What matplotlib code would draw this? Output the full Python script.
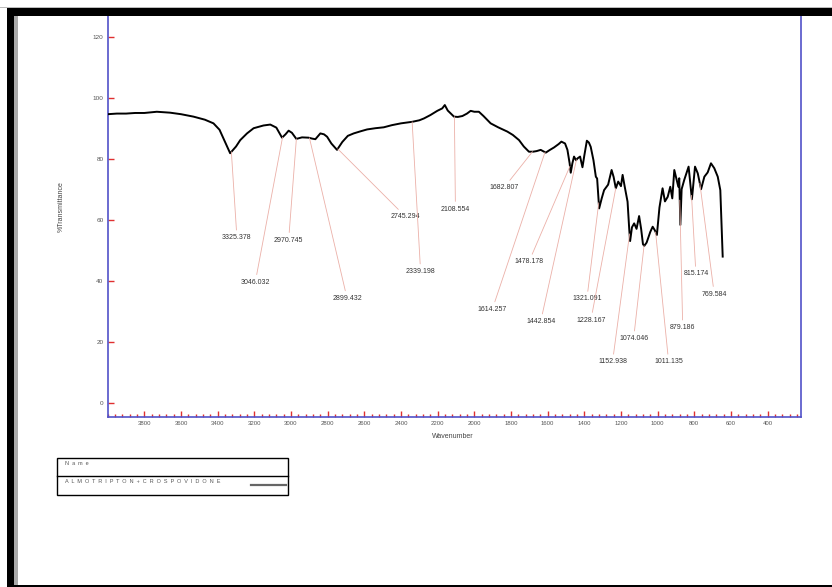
import matplotlib
matplotlib.use('Agg')
import matplotlib.pyplot as plt
import numpy as np
from matplotlib.patches import Rectangle
from matplotlib.lines import Line2D

# 光谱数据
wavenumber = [4000, 3950, 3900, 3850, 3800, 3732, 3660, 3600, 3532, 3470, 3423, 3390, 3360,
              3332, 3300, 3277, 3240, 3204, 3150, 3113, 3080, 3049, 3030, 3013, 2995, 2971,
              2940, 2904, 2885, 2867, 2840, 2820, 2803, 2780, 2749, 2720, 2690, 2658, 2620,
              2585, 2540, 2494, 2450, 2400, 2339, 2300, 2275, 2240, 2202, 2175, 2161, 2145,
              2130, 2111, 2090, 2065, 2040, 2020, 2000, 1975, 1950, 1911, 1870, 1820, 1790,
              1756, 1730, 1702, 1680, 1660, 1638, 1610, 1590, 1565, 1540, 1525, 1505, 1492,
              1480, 1474, 1465, 1456, 1445, 1437, 1423, 1410, 1400, 1386, 1375, 1365, 1350,
              1337, 1330, 1319, 1305, 1292, 1270, 1251, 1240, 1228, 1215, 1200, 1191, 1180,
              1164, 1155, 1150, 1140, 1128, 1115, 1101, 1090, 1080, 1073, 1060, 1040, 1027,
              1015, 1004, 990, 973, 960, 945, 931, 920, 909, 900, 887, 882, 876, 869, 855,
              831, 813, 796, 781, 763, 745, 727, 709, 691, 672, 658, 645]
transmittance = [94.6, 94.8, 94.8, 95.0, 95.0, 95.4, 95.1, 94.6, 93.8, 92.8, 91.6, 89.5, 85.5,
                 81.8, 84.0, 86.1, 88.3, 90.0, 90.9, 91.2, 90.2, 86.9, 88.0, 89.2, 88.5, 86.5,
                 87.0, 86.9, 86.6, 86.4, 88.3, 88.0, 87.2, 85.0, 82.9, 85.5, 87.5, 88.3, 89.0,
                 89.6, 90.0, 90.3, 91.0, 91.6, 92.1, 92.6, 93.2, 94.3, 95.7, 96.5, 97.6, 95.8,
                 94.9, 93.8, 93.7, 94.0, 94.8, 95.7, 95.4, 95.4, 94.0, 91.6, 90.3, 88.9, 87.8,
                 86.1, 84.0, 82.3, 82.3, 82.5, 82.9, 82.0, 82.8, 83.7, 84.8, 85.6, 85.0, 82.9,
                 78.5, 75.4, 78.5, 80.7, 79.5, 80.1, 80.7, 77.2, 81.0, 85.9, 85.3, 83.9, 79.5,
                 74.1, 73.5, 63.7, 67.0, 69.7, 71.5, 76.3, 74.0, 70.3, 72.5, 71.0, 74.7, 71.0,
                 65.9, 57.0, 53.0, 57.5, 58.8, 57.0, 61.2, 57.0, 52.0, 51.4, 52.5, 56.0, 57.7,
                 56.5, 55.0, 64.0, 70.3, 66.0, 67.5, 70.8, 67.0, 76.3, 74.1, 70.8, 73.6, 58.3,
                 70.0, 73.0, 77.4, 66.7, 77.4, 75.2, 70.0, 74.1, 75.5, 78.5, 76.9, 74.1, 69.7,
                 47.9]

# 峰值标注
peak_wavenumbers = [3325.378, 3046.032, 2970.745, 2899.432, 2745.294, 2339.198, 2108.554,
                    1682.807, 1614.257, 1478.178, 1442.854, 1321.091, 1228.167, 1152.938,
                    1074.046, 1011.135, 879.186, 815.174, 769.584]
label_x = [3295, 3195, 3013, 2694, 2375, 2293, 2103, 1838, 1902, 1702, 1638, 1386, 1364,
           1246, 1131, 940, 863, 791, 691]
label_y = [54.1, 39.5, 53.3, 34.2, 61.0, 43.0, 63.5, 70.5, 30.6, 46.2, 26.6, 34.0, 27.1,
           13.4, 21.0, 13.4, 24.6, 42.2, 35.6]

W, H = 832, 587
fig = plt.figure(figsize=(W / 100, H / 100), dpi=100)
ax = fig.add_axes([107.7 / W, 1 - 416.7 / H, (800.6 - 107.7) / W, (416.7 - 16) / H])

# 绘制光谱
ax.plot(wavenumber, transmittance, color='black', lw=1.4, zorder=3)

# 峰值标签和引线
wn_sorted = np.array(wavenumber)[::-1]
t_sorted = np.array(transmittance)[::-1]
for p, lx, ly in zip(peak_wavenumbers, label_x, label_y):
    py = np.interp(p, wn_sorted, t_sorted)
    ax.annotate('%.3f' % p, xy=(p, py), xytext=(lx, ly), ha='center', va='center',
                fontsize=5.0, color='#333333', family='Liberation Sans',
                arrowprops=dict(arrowstyle='-', color='#ebb0a8', lw=0.6, shrinkA=1, shrinkB=0))

# 坐标轴
ax.set_xlim(4000, 220)
ax.set_ylim(-4.6, 126.8)
ax.set_xticks(range(3800, 300, -200))
ax.xaxis.set_minor_locator(matplotlib.ticker.MultipleLocator(40))
ax.set_yticks(range(0, 121, 20))
ax.tick_params(axis='both', which='both', direction='in', color='#e03030',
               top=False, right=False, labelcolor='#555555', pad=3)
ax.tick_params(axis='x', labelsize=4.3)
ax.tick_params(axis='y', labelsize=4.6)
ax.tick_params(which='major', length=4, width=1)
ax.tick_params(which='minor', length=2, width=1)
for lab in ax.get_xticklabels() + ax.get_yticklabels():
    lab.set_family('Liberation Sans')
for s in ['left', 'right', 'bottom']:
    ax.spines[s].set_color('#5252c8')
    ax.spines[s].set_linewidth(1.2)
ax.spines['top'].set_visible(False)

fig.text(61.7 / W, 1 - 206.7 / H, '%Transmittance', rotation=90, ha='center', va='center',
         fontsize=5.0, color='#444444', family='Liberation Sans')
fig.text(453 / W, 1 - 436 / H, 'Wavenumber', ha='center', va='center',
         fontsize=5.0, color='#444444', family='Liberation Sans')


def px_rect(x0, y0, x1, y1, color, z=10):
    fig.patches.append(Rectangle((x0 / W, 1 - y1 / H), (x1 - x0) / W, (y1 - y0) / H,
                                 transform=fig.transFigure, facecolor=color,
                                 edgecolor='none', zorder=z))


# 黑色边框
px_rect(0, 6.5, W, 8, '#bbbbbb')
px_rect(7, 8, W, 16, 'black')
px_rect(7, 8, 14, 586.5, 'black')
px_rect(14, 16, 18, 585, '#aaaaaa')
px_rect(7, 585, W, 586.5, 'black')

# 图例框
fig.patches.append(Rectangle((56.7 / W, 1 - 495 / H), (288.3 - 56.7) / W, (495 - 458.3) / H,
                             transform=fig.transFigure, facecolor='none',
                             edgecolor='black', lw=1.0, zorder=10))
fig.lines.append(Line2D([56.7 / W, 288.3 / W], [1 - 476 / H, 1 - 476 / H],
                        transform=fig.transFigure, color='black', lw=1.0))
fig.lines.append(Line2D([250.7 / W, 285.7 / W], [1 - 485.3 / H, 1 - 485.3 / H],
                        transform=fig.transFigure, color='#666666', lw=1.6))
fig.text(65 / W, 1 - 463.3 / H, '  '.join('Name'), ha='left', va='center',
         fontsize=4.0, color='#555555', family='Liberation Sans')
fig.text(65 / W, 1 - 481.7 / H, '  '.join('ALMOTRIPTON+CROSPOVIDONE'), ha='left', va='center',
         fontsize=4.0, color='#555555', family='Liberation Sans')

fig.savefig('out.png', dpi=100)
